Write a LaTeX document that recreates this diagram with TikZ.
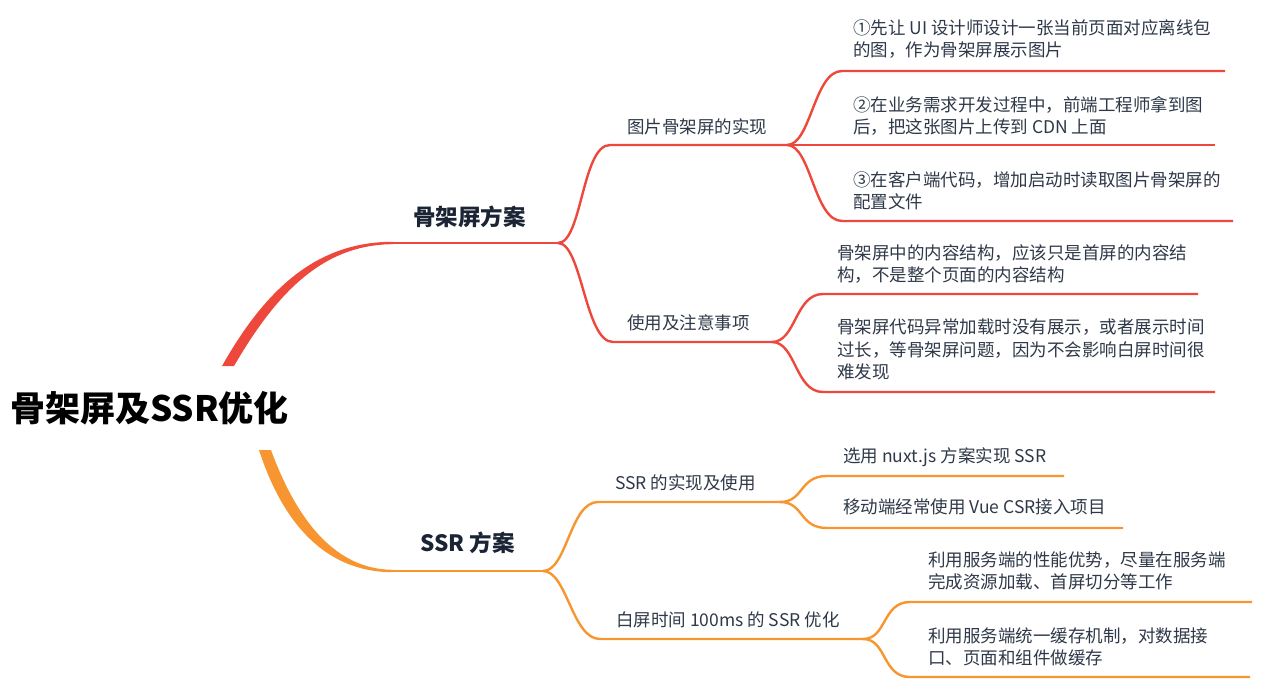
\documentclass[tikz,border=0pt]{standalone}
\usepackage{fontspec}
\setmainfont{Noto Sans CJK SC}
\usetikzlibrary{positioning}
\definecolor{skR}{RGB}{238,72,60}
\definecolor{ssO}{RGB}{247,150,48}
\definecolor{txt}{RGB}{46,56,72}
\definecolor{txtH}{RGB}{26,36,52}

\begin{document}
\begin{tikzpicture}[
  x=1pt, y=-1pt,
  root/.style={anchor=west, inner sep=0pt, font=\fontsize{35}{40}\selectfont\bfseries, text=black},
  topic/.style={anchor=west, inner sep=0pt, font=\fontsize{22.5}{27}\selectfont\bfseries, text=txtH},
  sub/.style={anchor=west, inner sep=0pt, font=\fontsize{17.5}{22.5}\selectfont, text=txt},
  leaf/.style={sub, align=left},
  rline/.style={draw=skR, line width=2.4pt},
  oline/.style={draw=ssO, line width=2.4pt},
  fork/.style={to path={.. controls +(24,0) and +(-28,0) .. (\tikztotarget)}},
]
\useasboundingbox (0,0) rectangle (1280,683);

% ---------- nodes ----------
\node[root] (root) at (10,408) {骨架屏及SSR优化};

\node[topic] (sk) at (413,217) {骨架屏方案};
\node[topic] (ssr) at (420,543) {SSR 方案};

\node[sub] (img) at (627,127) {图片骨架屏的实现};
\node[sub] (use) at (627,323) {使用及注意事项};
\node[sub] (impl) at (615,483) {SSR 的实现及使用};
\node[sub] (wt) at (616,620) {白屏时间 100ms 的 SSR 优化};

\node[leaf] (img1) at (853,39) {①先让 UI 设计师设计一张当前页面对应离线包\\的图，作为骨架屏展示图片};
\node[leaf] (img2) at (853,116) {②在业务需求开发过程中，前端工程师拿到图\\后，把这张图片上传到 CDN 上面};
\node[leaf] (img3) at (853,191) {③在客户端代码，增加启动时读取图片骨架屏的\\配置文件};
\node[leaf] (use1) at (837,264) {骨架屏中的内容结构，应该只是首屏的内容结\\构，不是整个页面的内容结构};
\node[leaf] (use2) at (837,349.5) {骨架屏代码异常加载时没有展示，或者展示时间\\过长，等骨架屏问题，因为不会影响白屏时间很\\难发现};
\node[leaf] (impl1) at (843,457) {选用 nuxt.js 方案实现 SSR};
\node[leaf] (impl2) at (843,507) {移动端经常使用 Vue CSR接入项目};
\node[leaf] (wt1) at (928,571) {利用服务端的性能优势，尽量在服务端\\完成资源加载、首屏切分等工作};
\node[leaf] (wt2) at (928,647) {利用服务端统一缓存机制，对数据接\\口、页面和组件做缓存};

% ---------- joints ----------
\coordinate (skA) at (393,243);  \coordinate (skF) at (558,243);
\coordinate (imgL) at (610,145); \coordinate (imgF) at (787,145);
\coordinate (useL) at (613,342); \coordinate (useF) at (772,342);
\coordinate (i1L) at (842,71);   \coordinate (i1R) at (1225,71);
\coordinate (i2R) at (1215,145);
\coordinate (i3L) at (842,221);  \coordinate (i3R) at (1233,221);
\coordinate (u1L) at (823,294);  \coordinate (u1R) at (1198,294);
\coordinate (u2L) at (823,392);  \coordinate (u2R) at (1215,392);

\coordinate (ssA) at (393,571);  \coordinate (ssF) at (543,571);
\coordinate (implL) at (598,502); \coordinate (implF) at (780,502);
\coordinate (wtL) at (600,639);  \coordinate (wtF) at (863,639);
\coordinate (m1L) at (827,476);  \coordinate (m1R) at (1064,476);
\coordinate (m2L) at (827,528);  \coordinate (m2R) at (1123,528);
\coordinate (w1L) at (910,602);  \coordinate (w1R) at (1252,602);
\coordinate (w2L) at (910,677);  \coordinate (w2R) at (1250,677);

% ---------- main branches (tapered) ----------
\fill[skR] (222,366) .. controls (265,290) and (316,241.6) .. (393,241.8)
  -- (393,244.2) .. controls (322,244.4) and (276,294) .. (234,366) -- cycle;
\fill[ssO] (259,450) .. controls (283,524) and (326,572.3) .. (393,572.2)
  -- (393,569.8) .. controls (334,569.6) and (296,518) .. (271,450) -- cycle;

% ---------- red subtree ----------
\draw[rline] (skA) -- (skF);
\draw[rline] (skF) to[fork] (imgL) -- (imgF);
\draw[rline] (skF) to[fork] (useL) -- (useF);
\draw[rline] (imgF) to[fork] (i1L) -- (i1R);
\draw[rline] (imgF) -- (i2R);
\draw[rline] (imgF) to[fork] (i3L) -- (i3R);
\draw[rline] (useF) to[fork] (u1L) -- (u1R);
\draw[rline] (useF) to[fork] (u2L) -- (u2R);

% ---------- orange subtree ----------
\draw[oline] (ssA) -- (ssF);
\draw[oline] (ssF) to[fork] (implL) -- (implF);
\draw[oline] (ssF) to[fork] (wtL) -- (wtF);
\draw[oline] (implF) to[fork] (m1L) -- (m1R);
\draw[oline] (implF) to[fork] (m2L) -- (m2R);
\draw[oline] (wtF) to[fork] (w1L) -- (w1R);
\draw[oline] (wtF) to[fork] (w2L) -- (w2R);

\end{tikzpicture}
\end{document}
